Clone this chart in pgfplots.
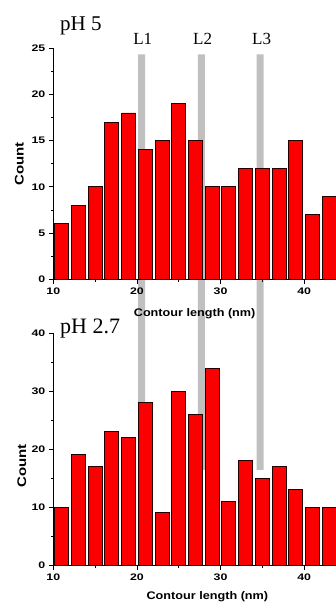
\documentclass[border=0pt]{standalone}
\usepackage{pgfplots}
\pgfplotsset{compat=1.18}
\usepackage{fontspec}
\setmainfont{Liberation Serif}
\setsansfont{Liberation Sans}
\definecolor{barred}{RGB}{250,0,0}
\definecolor{bandgray}{RGB}{192,192,192}
\newcommand{\wide}[2][1.3]{\scalebox{#1}[1]{#2}}

\pgfplotsset{
  hist/.style={
    scale only axis, width=282.7pt, xmin=10, xmax=43.8, ymin=0,
    anchor=south west,
    axis lines*=left, axis line style={line width=0.9pt},
    tick align=outside, major tick length=4.5pt, minor tick length=2.5pt,
    tick style={line width=0.8pt, black},
    minor tick num=1,
    xtick={10,20,30,40},
    /pgf/number format/assume math mode=true,
    ticklabel style={font=\sffamily\bfseries\fontsize{9.5}{10}\selectfont},
    xticklabel style={yshift=-1pt},
    xticklabel={\wide{\pgfmathprintnumber{\tick}}},
    yticklabel={\wide{\pgfmathprintnumber{\tick}}},
    label style={font=\sffamily\bfseries\fontsize{11}{12}\selectfont},
    xlabel={\wide[1.15]{Contour length (nm)}},
    ylabel={\fontsize{12.5}{13}\selectfont\wide[1.2]{Count}},
  },
  redbars/.style={ybar, bar width=14pt, fill=barred, draw=black!85!red, line width=0.9pt},
}

\begin{document}
\begin{tikzpicture}
\path[use as bounding box] (0,0) rectangle (336pt,603pt);

% overlay: grey bands and annotations
\begin{axis}[scale only axis, width=282.7pt, height=415.7pt, at={(53.3pt,133pt)}, anchor=south west,
  xmin=10, xmax=43.8, ymin=0, ymax=415.7, hide axis, clip=false]
\addplot[ybar, bar width=7pt, fill=bandgray, draw=none] coordinates {(20.57,415.7) (27.69,415.7) (34.74,415.7)};
\node[anchor=base, font=\fontsize{17}{17}\selectfont] at (axis cs:20.69,425) {L1};
\node[anchor=base, font=\fontsize{17}{17}\selectfont] at (axis cs:27.86,425) {L2};
\node[anchor=base, font=\fontsize{17}{17}\selectfont] at (axis cs:34.91,425) {L3};
\node[anchor=base west, inner sep=0pt, font=\fontsize{21}{21}\selectfont] at (axis cs:10.8,439.3) {pH 5};
\node[anchor=base west, inner sep=0pt, font=\fontsize{22}{22}\selectfont] at (axis cs:10.8,136.7) {pH 2.7};
\end{axis}

% top panel: pH 5
\begin{axis}[hist, at={(53.3pt,323.7pt)}, height=231pt, ymax=25, ytick={0,5,...,25},
  xlabel style={at={(axis description cs:0.5,0)}, anchor=center, yshift=-34pt},
  ylabel style={at={(axis description cs:-0.12,0.5)}, anchor=center}]
\addplot[redbars] coordinates {
(11,6) (13,8) (15,10) (17,17) (19,18) (21,14) (23,15) (25,19) (27,15)
(29,10) (31,10) (33,12) (35,12) (37,12) (39,15) (41,7) (43,9)};
\end{axis}

% bottom panel: pH 2.7
\begin{axis}[hist, at={(53.3pt,38pt)}, height=231.7pt, ymax=40, ytick={0,10,...,40},
  xlabel style={at={(axis description cs:0.545,0)}, anchor=center, yshift=-31.7pt},
  ylabel style={at={(axis description cs:-0.111,0.427)}, anchor=center}]
\addplot[redbars] coordinates {
(11,10) (13,19) (15,17) (17,23) (19,22) (21,28) (23,9) (25,30) (27,26)
(29,34) (31,11) (33,18) (35,15) (37,17) (39,13) (41,10) (43,10)};
\end{axis}
\end{tikzpicture}
\end{document}
